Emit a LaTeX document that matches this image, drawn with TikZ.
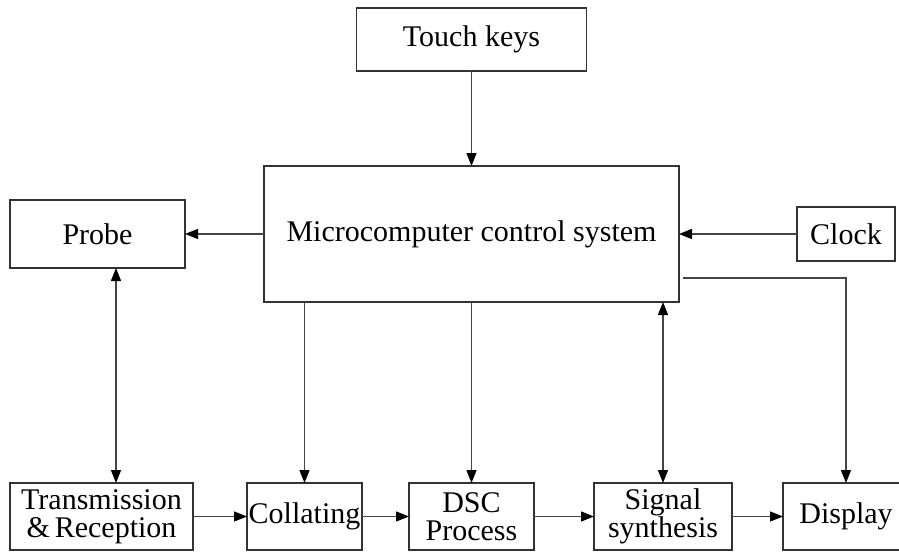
\documentclass[tikz,border=0pt]{standalone}
\usepackage{fontspec}
\setmainfont{Liberation Serif}
\usetikzlibrary{arrows.meta,positioning,calc}
\definecolor{edge}{HTML}{454545}

\begin{document}
\begin{tikzpicture}[
  x=1pt, y=-1pt,
  box/.style={draw=black!80, line width=1.4pt, inner sep=0pt, outer sep=0pt, align=center, font=\fontsize{30}{28}\selectfont},
  arr/.style={-{Triangle[length=13pt, width=10pt, color=black]}, line width=1.3pt, edge},
  dblarr/.style={{Triangle[length=13pt, width=10pt, color=black]}-{Triangle[length=13pt, width=10pt, color=black]}, line width=1.3pt, edge}
]
  \useasboundingbox (0,0) rectangle (899,554);

  \node[box, minimum width=415pt, minimum height=136pt] (micro) at (471.5,234) {Microcomputer control system};
  \node[box, minimum width=230pt, minimum height=63pt, above=95pt of micro] (touch) {Touch keys};
  \node[box, minimum width=175pt, minimum height=68pt, left=79pt of micro] (probe) {Probe};
  \node[box, minimum width=98pt, minimum height=54pt, right=118pt of micro] (clock) {Clock};

  \node[box, minimum width=183pt, minimum height=67pt] (trans) at (101.5,516.5) {Transmission\\\&\,Reception};
  \node[box, minimum width=115pt, minimum height=67pt, right=54pt of trans] (coll) {Collating};
  \node[box, minimum width=125pt, minimum height=67pt, right=47pt of coll] (dsc) {DSC\\Process};
  \node[box, minimum width=138pt, minimum height=67pt, right=60pt of dsc] (synth) {Signal\\synthesis};
  \node[box, minimum width=126pt, minimum height=67pt, right=51pt of synth] (disp) {Display};

  \coordinate (tap) at ([xshift=4pt, yshift=24pt]micro.south east);

  \draw[arr] (touch.south) -- (touch.south |- micro.north);
  \draw[arr] (micro) -- (probe);
  \draw[arr] (clock) -- (micro);
  \draw[dblarr] ([xshift=18.5pt]probe.south) -- ([xshift=14.5pt]trans.north);
  \draw[arr] (coll.north |- micro.south) -- (coll.north);
  \draw[arr] (dsc.north |- micro.south) -- (dsc.north);
  \draw[dblarr] (synth.north) -- (synth.north |- micro.south);
  \draw[arr] (tap) -| (disp.north);
  \draw[arr] (trans) -- (coll);
  \draw[arr] (coll) -- (dsc);
  \draw[arr] (dsc) -- (synth);
  \draw[arr] (synth) -- (disp);
\end{tikzpicture}
\end{document}
